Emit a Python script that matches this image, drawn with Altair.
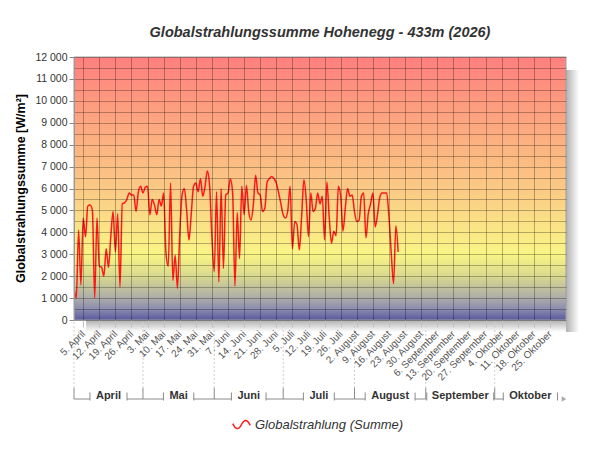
import altair as alt
import pandas as pd

# ---------------- data ----------------
start_date = "2026-04-01"
radiation = [
    1500, 1000, 4100, 1600, 4650, 3800, 5200, 5250, 5000, 1000,
    4650, 2450, 2400, 2000, 3250, 2400, 3800, 4950, 3100, 4850,
    1500, 5300, 5350, 5500, 5800, 5700, 5700, 4950, 5850, 6100,
    5800, 6050, 6100, 4800, 5500, 5250, 4800, 5500, 5200, 5800,
    3050, 2450, 6250, 1800, 2950, 1450, 3950, 5700, 6000, 5000,
    3650, 4850, 6100, 6250, 5850, 6450, 5650, 6100, 6800, 6100,
    3750, 2200, 5850, 1750, 6000, 2350, 5700, 5800, 6450, 5800,
    1550, 4900, 2800, 6100, 4800, 6150, 4950, 4550, 5250, 6600,
    5800, 5700, 4950, 5100, 6300, 6450, 6550, 6450, 6250, 5800,
    5300, 4800, 4650, 5000, 6100, 3250, 4500, 4350, 3200, 4700,
    6400, 5500, 3800, 5800, 4950, 5100, 5800, 5300, 5650, 3650,
    6300, 4700, 3500, 4050, 3850, 6100, 5650, 4050, 5100, 6000,
    5650, 5700, 4950, 4500, 4550, 5650, 5800, 3750, 4850, 5300,
    5800, 4250, 4800, 5600, 5800, 5800, 5800, 4700, 3050, 1650,
    4300, 3100,
]
series_name = "Globalstrahlung (Summe)"
chart_title = "Globalstrahlungssumme Hohenegg - 433m (2026)"
y_title = "Globalstrahlungssumme [W/m²]"
month_labels = ["April", "Mai", "Juni", "Juli", "August", "September", "Oktober"]
month_starts = ["2026-04-01", "2026-05-01", "2026-06-01", "2026-07-01",
                "2026-08-01", "2026-09-01", "2026-10-01"]
month_ends = month_starts[1:] + ["2026-11-01"]
first_week_tick = "2026-04-05"
last_week_tick = "2026-10-25"
german_months = ["Januar", "Februar", "März", "April", "Mai", "Juni", "Juli",
                 "August", "September", "Oktober", "November", "Dezember"]
y_max = 12000
y_label_step = 1000
y_grid_step = 500

# ---------------- layout / style ----------------
W, H = 492, 263
FONT = "Liberation Sans"
GRID_OPACITY = 0.28


def ms(s):
    return int(pd.Timestamp(s, tz="UTC").value // 10**6)


def iso(m):
    return pd.Timestamp(int(m), unit="ms", tz="UTC").strftime("%Y-%m-%dT%H:%M:%S.%f")[:-3] + "Z"


x0, x1 = ms(month_starts[0]), ms(month_ends[-1])
ms_per_px = (x1 - x0) / W
u_per_px = y_max / H


def below(px):
    return -px * u_per_px


week_ticks = [int(t.value // 10**6) for t in
              pd.date_range(first_week_tick, last_week_tick, freq="7D", tz="UTC")]
y_grid = list(range(0, y_max + 1, y_grid_step))

dates = pd.date_range(start_date, periods=len(radiation), freq="D").strftime("%Y-%m-%d").tolist()
line_df = pd.DataFrame({"date": dates, "value": radiation, "series": series_name})

xscale = alt.Scale(type="utc", domain=[x0, x1], nice=False)
yscale = alt.Scale(domain=[0, y_max], nice=False, zero=True)

months_js = "[" + ",".join("'%s'" % m for m in german_months) + "]"

x_axis = alt.Axis(
    values=week_ticks, grid=True, gridColor="#000", gridOpacity=GRID_OPACITY,
    labelExpr="utcdate(datum.value) + '. ' + " + months_js + "[utcmonth(datum.value)]",
    labelAngle=315, labelAlign="right", labelBaseline="middle",
    labelFont=FONT, labelFontSize=10, labelColor="#555", labelPadding=5,
    labelOverlap=False, labelFlush=False, labelBound=False,
    tickSize=7, tickColor="#c0c0c0", domain=False, title=None, zindex=1,
)
y_axis = alt.Axis(
    values=y_grid, grid=True, gridColor="#000", gridOpacity=GRID_OPACITY,
    labelExpr="datum.value % 1000 === 0 ? replace(format(datum.value, ','), ',', ' ') : ''",
    labelFont=FONT, labelFontSize=10.5, labelColor="#333", labelPadding=2,
    labelOverlap=False, labelFlush=False,
    tickSize=5, tickColor="#888",
    tickOpacity={"condition": {"test": "datum.value % 1000 !== 0", "value": 0}, "value": 1},
    domainColor="#999",
    title=y_title, titleFont=FONT, titleFontSize=12.5, titleFontWeight="bold", titleColor="#000",
    titleX=-54, titleY=131, titleAngle=270, titleAlign="center", titleBaseline="middle",
    zindex=1,
)


def X(field):
    return alt.X(field, scale=xscale, axis=x_axis)


def Y(field):
    return alt.Y(field, scale=yscale, axis=y_axis)


def YD(v):
    return alt.YDatum(v, scale=yscale, axis=y_axis, type="quantitative")


# background gradient (plot area)
bg_gradient = alt.LinearGradient(
    gradient="linear", x1=0, x2=0, y1=0, y2=1,
    stops=[
        alt.GradientStop(color="#ff7f7f", offset=0.0),
        alt.GradientStop(color="#fd9a7f", offset=0.17),
        alt.GradientStop(color="#fcb281", offset=0.33),
        alt.GradientStop(color="#fbc985", offset=0.50),
        alt.GradientStop(color="#fbdf86", offset=0.62),
        alt.GradientStop(color="#faf585", offset=0.75),
        alt.GradientStop(color="#d9d98f", offset=0.833),
        alt.GradientStop(color="#acacaa", offset=0.917),
        alt.GradientStop(color="#8c8cb0", offset=0.958),
        alt.GradientStop(color="#5a5a9e", offset=1.0),
    ],
)
bg_df = pd.DataFrame({"x": [iso(x0)], "x2": [iso(x1)], "y": [0], "y2": [y_max]})
background = alt.Chart(bg_df).mark_rect(fill=bg_gradient, stroke="#a0a0a0", strokeWidth=1).encode(
    x=X("x:T"), x2="x2:T", y=Y("y:Q"), y2="y2:Q",
)

# drop shadow (right and bottom)
shadow_h = alt.LinearGradient(gradient="linear", x1=0, x2=1, y1=0, y2=0, stops=[
    alt.GradientStop(color="#b0b0b0", offset=0), alt.GradientStop(color="#ffffff", offset=1)])
shadow_v = alt.LinearGradient(gradient="linear", x1=0, x2=0, y1=0, y2=1, stops=[
    alt.GradientStop(color="#b0b0b0", offset=0), alt.GradientStop(color="#ffffff", offset=1)])
sh_r_df = pd.DataFrame({"x": [iso(x1)], "x2": [iso(x1 + 13 * ms_per_px)],
                        "y": [below(12)], "y2": [y_max - 13 * u_per_px]})
sh_b_df = pd.DataFrame({"x": [iso(x0 + 12 * ms_per_px)], "x2": [iso(x1)],
                        "y": [0], "y2": [below(12)]})
shadow_r = alt.Chart(sh_r_df).mark_rect(fill=shadow_h).encode(
    x=X("x:T"), x2="x2:T", y=Y("y:Q"), y2="y2:Q")
shadow_b = alt.Chart(sh_b_df).mark_rect(fill=shadow_v).encode(
    x=X("x:T"), x2="x2:T", y=Y("y:Q"), y2="y2:Q")

# data line
line = alt.Chart(line_df).mark_line(interpolate="monotone", strokeWidth=1.5, clip=True).encode(
    x=X("date:T"),
    y=Y("value:Q"),
    color=alt.Color("series:N", scale=alt.Scale(domain=[series_name], range=["#ff1a1a"]),
                    legend=alt.Legend(
                        orient="none", legendX=158, legendY=358, title=None,
                        symbolType="M-1,-0.1 C-0.65,0.7 -0.3,0.6 0,0 C0.3,-0.6 0.65,-0.7 1,0.1",
                        symbolSize=300, symbolStrokeWidth=1.5, symbolFillColor="transparent",
                        labelFont=FONT, labelFontSize=13, labelFontStyle="italic",
                        labelColor="#333", labelOffset=4)),
)

# month bracket below the axis
bold_w = {'A': 722, 'p': 611, 'r': 389, 'i': 278, 'l': 278, 'M': 833, 'a': 556, 'J': 556,
          'u': 611, 'n': 611, 'g': 611, 's': 556, 't': 333, 'S': 667, 'e': 556, 'm': 889,
          'b': 611, 'O': 778, 'k': 556, 'o': 611}


def text_px(s, size):
    return sum(bold_w.get(c, 600) for c in s) * size / 1000


seg_rows, tick_rows, text_rows = [], [], []
for i, (name, s, e) in enumerate(zip(month_labels, month_starts, month_ends)):
    a, b = ms(s), ms(e)
    if i == len(month_labels) - 1:
        b = b - 5 * ms_per_px
    mid = (ms(s) + ms(e)) / 2
    half = (text_px(name, 11) + 12) / 2 * ms_per_px
    le, rs = max(a + ms_per_px, mid - half), min(b - ms_per_px, mid + half)
    seg_rows.append({"x": iso(a), "x2": iso(le)})
    if i < len(month_labels) - 1:
        seg_rows.append({"x": iso(rs), "x2": iso(b)})
    tick_rows += [{"x": iso(le)}, {"x": iso(rs)}]
    text_rows.append({"x": iso(mid), "label": name})

seg_df = pd.DataFrame(seg_rows)
tick_df = pd.DataFrame(tick_rows)
text_df = pd.DataFrame(text_rows)
bound_df = pd.DataFrame({"x": month_starts})
arrow_df = pd.DataFrame({"x": [iso(x1 - 2 * ms_per_px)]})

Y_LINE = below(79)
dashed = alt.Chart(bound_df).mark_rule(color="#cfcfcf", strokeDash=[2, 2], strokeWidth=1).encode(
    x=X("x:T"), y=YD(below(2)), y2=alt.datum(below(68)))
solid = alt.Chart(bound_df).mark_rule(color="#8a8a8a", strokeWidth=1).encode(
    x=X("x:T"), y=YD(below(68)), y2=alt.datum(Y_LINE))
segs = alt.Chart(seg_df).mark_rule(color="#8a8a8a", strokeWidth=1).encode(
    x=X("x:T"), x2="x2:T", y=YD(Y_LINE))
ticks = alt.Chart(tick_df).mark_rule(color="#8a8a8a", strokeWidth=1).encode(
    x=X("x:T"), y=YD(below(72.5)), y2=alt.datum(below(80.5)))
texts = alt.Chart(text_df).mark_text(font=FONT, fontSize=11, fontWeight="bold", color="#333",
                                     baseline="middle", align="center").encode(
    x=X("x:T"), y=YD(below(75.5)), text="label:N")
arrow = alt.Chart(arrow_df).mark_point(shape="triangle-right", filled=True, size=28,
                                       color="#aaaaaa", opacity=1).encode(
    x=X("x:T"), y=YD(Y_LINE))

chart = alt.layer(
    shadow_r, shadow_b, background, line, dashed, solid, segs, ticks, texts, arrow
).properties(
    width=W, height=H,
    title=alt.TitleParams(text=chart_title, font=FONT, fontSize=14.5, fontWeight="bold",
                          fontStyle="italic", color="#333", anchor="middle", offset=12),
    autosize=alt.AutoSizeParams(type="none"),
    padding={"left": 66, "top": 49, "right": 26, "bottom": 118},
).configure_view(stroke=None)

chart.save("out.html", embed_options={"renderer": "svg", "actions": False})
